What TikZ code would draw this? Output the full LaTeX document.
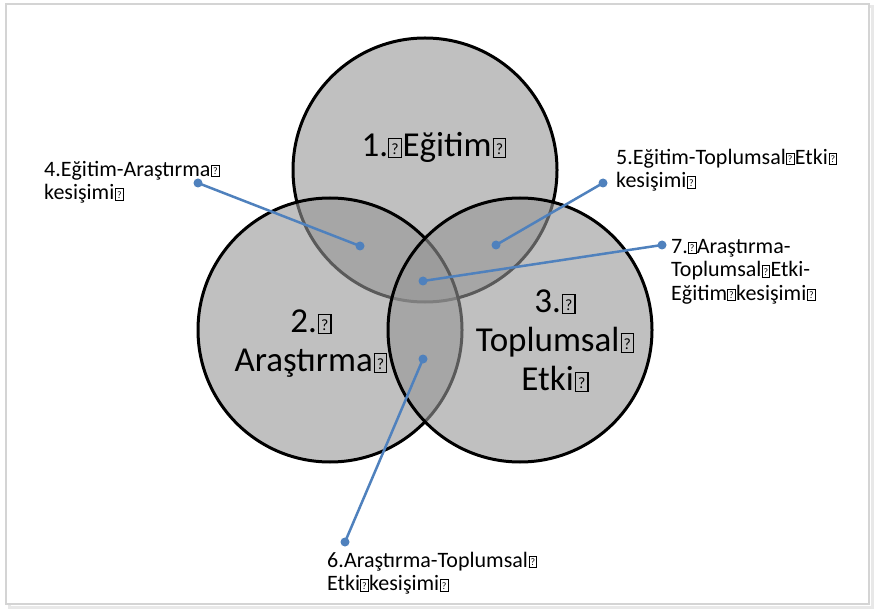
\documentclass[tikz,border=0pt]{standalone}
\usepackage{fontspec}
\setmainfont{Carlito}
\usetikzlibrary{arrows.meta}
\definecolor{circfill}{RGB}{150,150,150}
\definecolor{linkblue}{RGB}{79,129,189}
\definecolor{framegray}{RGB}{212,212,212}
\definecolor{shadowgray}{RGB}{232,232,232}
\newcommand\mgglyph{{\setlength\fboxsep{0pt}\setlength\fboxrule{0.035em}\fbox{\makebox[0.32em]{\rule{0pt}{0.5em}\raisebox{0.07em}{\scalebox{0.45}{?}}}}}}
\newcommand\mgend{\hspace{0.03em}\mgglyph}
\newcommand\mgmid{\mgglyph\hspace{0.02em}}
\tikzset{
  venn/.style={circle, fill=circfill, fill opacity=0.6, draw=black, draw opacity=1, line width=3pt, minimum size=264pt, inner sep=0pt},
  bigtxt/.style={inner sep=0pt, font=\fontsize{35}{39}\selectfont, text=black},
  smalltxt/.style={inner sep=0pt, font=\fontsize{22}{23.5}\selectfont, text=black, align=left, anchor=north west},
  link/.style={draw=linkblue, line width=2.5pt},
  linkdot/.style={fill=linkblue}
}
\begin{document}
\begin{tikzpicture}[x=1pt,y=-1pt]
\useasboundingbox (0,0) rectangle (875,612);
\fill[white] (0,0) rectangle (875,612);
\draw[shadowgray, line width=3pt] (9,7) rectangle (872,607);
\draw[framegray, line width=1.2pt, fill=white] (6,4) rectangle (869,604);

\node[venn] (c1) at (425,170) {};
\node[venn] (c2) at (330,330) {};
\node[venn] (c3) at (520,330) {};

\node[bigtxt, anchor=base] (t1) at (434,157) {1.\mgmid Eğitim\mgend};
\node[bigtxt, anchor=north, align=center] (t2) at (311,310) {2.\mgend\\Araştırma\mgend};
\node[bigtxt, anchor=north, align=center] (t3) at (555,290) {3.\mgend\\Toplumsal\mgend\\Etki\mgend};

\node[smalltxt] (t4) at (44,161) {4.Eğitim-Araştırma\mgend\\kesişimi\mgend};
\node[smalltxt] (t5) at (616,149) {5.Eğitim-Toplumsal\mgmid Etki\mgend\\kesişimi\mgend};
\node[smalltxt] (t7) at (671,239) {7.\mgmid Araştırma-\\Toplumsal\mgmid Etki-\\Eğitim\mgmid kesişimi\mgend};
\node[smalltxt] (t6) at (327,552) {6.Araştırma-Toplumsal\mgend\\Etki\mgmid kesişimi\mgend};

\coordinate (d4a) at (198,183);
\coordinate (d4b) at (360,246);
\coordinate (d5a) at (603,183);
\coordinate (d5b) at (496,245);
\coordinate (d7a) at (662,245);
\coordinate (d7b) at (423,281);
\coordinate (d6a) at (345,542);
\coordinate (d6b) at (423,359);

\draw[link] (d4a) -- (d4b);
\draw[link] (d5a) -- (d5b);
\draw[link] (d7a) -- (d7b);
\draw[link] (d6a) -- (d6b);
\foreach \p in {d4a,d4b,d5a,d5b,d7a,d7b,d6a,d6b}
  \fill[linkdot] (\p) circle[radius=4.5pt];
\end{tikzpicture}
\end{document}
